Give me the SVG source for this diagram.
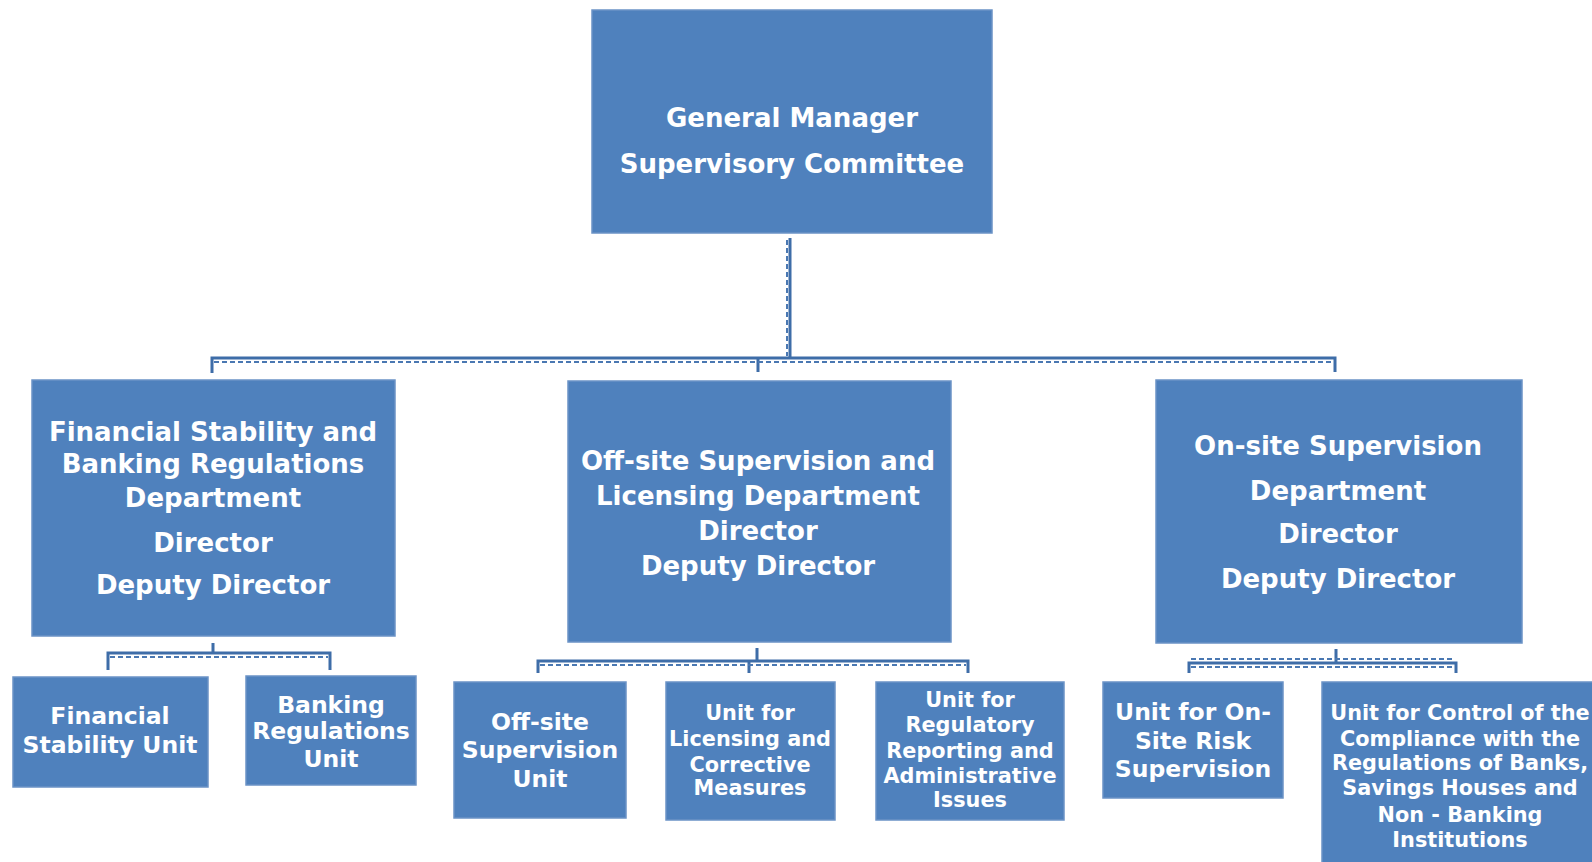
<svg xmlns="http://www.w3.org/2000/svg" width="1592" height="862" viewBox="0 0 1592 862">
<style>
.box{fill:#4F81BD;stroke:#6B93C6;stroke-width:1.5}
.t{font-family:"DejaVu Sans",Verdana,sans-serif;font-weight:bold;fill:#FFFFFF;text-anchor:middle}
.big{font-size:26px}
.mid{font-size:23.5px}
.sm{font-size:20.8px}
.c{fill:none;stroke:#3E6DA8;stroke-width:3}
.d{fill:none;stroke:#4A78B2;stroke-width:2;stroke-dasharray:5 3}
</style>
<rect width="1592" height="862" fill="#FFFFFF"/>
<g id="connectors">
<path class="c" d="M790 238V358M212 373V358H1335V372M758 358V372"/>
<path class="d" d="M214 362H1333M787 240V356"/>
<path class="c" d="M213 643V653M108 670V653H330V670"/>
<path class="d" d="M110 657H328"/>
<path class="c" d="M757 648V661M538 673V661H968V673M749 661V673"/>
<path class="d" d="M540 665H966"/>
<path class="c" d="M1336 649V663M1189 673V663H1456V673"/>
<path class="d" d="M1191 659H1454M1191 667H1454"/>
</g>
<g id="gm">
<rect class="box" x="592" y="10" width="400" height="223"/>
<text class="t big" x="792" y="127">General Manager</text>
<text class="t big" x="792" y="173">Supervisory Committee</text>
</g>
<g id="fsbr">
<rect class="box" x="32" y="380" width="363" height="256"/>
<text class="t big" x="213" y="441">Financial Stability and</text>
<text class="t big" x="213" y="473">Banking Regulations</text>
<text class="t big" x="213" y="507">Department</text>
<text class="t big" x="213" y="552">Director</text>
<text class="t big" x="213" y="594">Deputy Director</text>
</g>
<g id="oslic">
<rect class="box" x="568" y="381" width="383" height="261"/>
<text class="t big" x="758" y="470">Off-site Supervision and</text>
<text class="t big" x="758" y="505">Licensing Department</text>
<text class="t big" x="758" y="540">Director</text>
<text class="t big" x="758" y="575">Deputy Director</text>
</g>
<g id="onsite">
<rect class="box" x="1156" y="380" width="366" height="263"/>
<text class="t big" x="1338" y="455">On-site Supervision</text>
<text class="t big" x="1338" y="500">Department</text>
<text class="t big" x="1338" y="543">Director</text>
<text class="t big" x="1338" y="588">Deputy Director</text>
</g>
<g id="fsu">
<rect class="box" x="13" y="677" width="195" height="110"/>
<text class="t mid" x="110" y="724">Financial</text>
<text class="t mid" x="110" y="753">Stability Unit</text>
</g>
<g id="bru">
<rect class="box" x="246" y="676" width="170" height="109"/>
<text class="t mid" x="331" y="713">Banking</text>
<text class="t mid" x="331" y="739">Regulations</text>
<text class="t mid" x="331" y="767">Unit</text>
</g>
<g id="osu">
<rect class="box" x="454" y="682" width="172" height="136"/>
<text class="t mid" x="540" y="730">Off-site</text>
<text class="t mid" x="540" y="758">Supervision</text>
<text class="t mid" x="540" y="787">Unit</text>
</g>
<g id="lcm">
<rect class="box" x="666" y="682" width="169" height="138"/>
<text class="t sm" x="750" y="720">Unit for</text>
<text class="t sm" x="750" y="746">Licensing and</text>
<text class="t sm" x="750" y="772">Corrective</text>
<text class="t sm" x="750" y="795">Measures</text>
</g>
<g id="rrai">
<rect class="box" x="876" y="682" width="188" height="138"/>
<text class="t sm" x="970" y="707">Unit for</text>
<text class="t sm" x="970" y="732">Regulatory</text>
<text class="t sm" x="970" y="758">Reporting and</text>
<text class="t sm" x="970" y="783">Administrative</text>
<text class="t sm" x="970" y="807">Issues</text>
</g>
<g id="osrs">
<rect class="box" x="1103" y="682" width="180" height="116"/>
<text class="t mid" x="1193" y="720">Unit for On-</text>
<text class="t mid" x="1193" y="749">Site Risk</text>
<text class="t mid" x="1193" y="777">Supervision</text>
</g>
<g id="ccr">
<rect class="box" x="1322" y="682" width="280" height="190"/>
<text class="t sm" x="1460" y="720">Unit for Control of the</text>
<text class="t sm" x="1460" y="746">Compliance with the</text>
<text class="t sm" x="1460" y="770">Regulations of Banks,</text>
<text class="t sm" x="1460" y="795">Savings Houses and</text>
<text class="t sm" x="1460" y="822">Non - Banking</text>
<text class="t sm" x="1460" y="847">Institutions</text>
</g>
</svg>
